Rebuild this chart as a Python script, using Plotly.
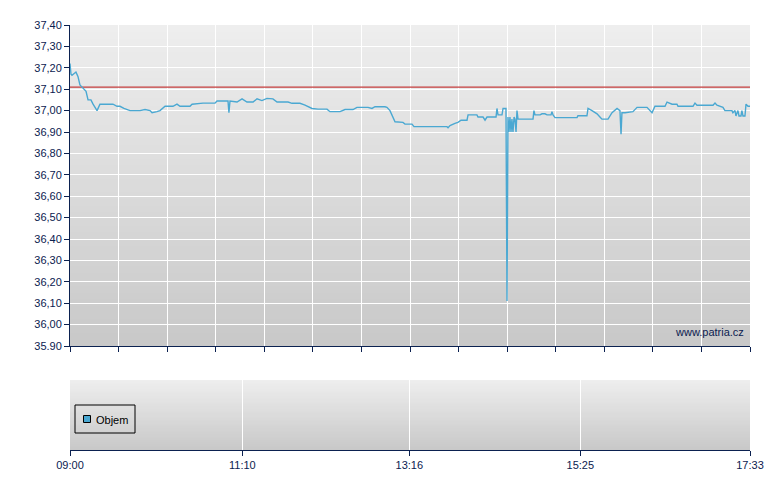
import plotly.graph_objects as go

# ---- data (minutes after 09:00 opening, price in CZK) ----
minutes = [0, 0.75, 1.5, 4.5, 6.0, 7.5, 9.8, 12.1, 13.6, 15.8, 17.4, 20.4, 22.6, 24.9, 32.4,
           35.5, 37.7, 40.7, 45.3, 52.8, 56.6, 60.4, 61.9, 65.6, 67.9, 71.7, 77.7, 80.7, 83.0,
           90.5, 92.1, 100.3, 109.4, 110.9, 119.2, 119.9, 120.7, 126.0, 129.8, 133.5, 138.1,
           141.1, 144.8, 148.6, 153.1, 156.2, 164.5, 167.5, 173.5, 177.3, 182.6, 187.1, 193.9,
           196.1, 203.7, 207.5, 213.5, 216.5, 224.8, 227.8, 230.1, 237.6, 239.1, 241.4, 243.7,
           245.2, 251.2, 252.7, 258.0, 259.5, 271.6, 284.4, 285.2, 286.7, 290.4, 292.7, 295.0,
           299.5, 300.3, 307.0, 307.8, 311.6, 313.1, 314.6, 321.4, 322.1, 322.9, 325.9, 326.7,
           328.9, 329.7, 330.4, 331.2, 331.9, 332.7, 333.4, 334.2, 335.0, 335.7, 336.5, 337.2,
           338.0, 339.5, 349.3, 350.0, 350.8, 354.6, 356.1, 358.3, 359.9, 362.9, 363.6, 364.4,
           365.9, 382.5, 383.2, 390.0, 390.8, 393.8, 397.6, 399.8, 401.3, 405.9, 408.9, 412.7,
           414.9, 415.7, 416.4, 418.7, 422.5, 424.7, 427.8, 435.3, 439.1, 441.3, 448.9, 450.4,
           454.2, 457.9, 458.7, 470.0, 471.5, 473.0, 485.1, 486.6, 488.1, 492.6, 494.1, 499.4,
           500.1, 501.7, 502.4, 503.2, 503.9, 504.7, 506.2, 506.9, 507.7, 509.2, 510.0, 511.5,
           513.0]
prices = [37.22, 37.17, 37.165, 37.18, 37.16, 37.12, 37.105, 37.09, 37.05, 37.05, 37.03, 37.00,
          37.03, 37.03, 37.03, 37.02, 37.02, 37.01, 37.00, 37.00, 37.005, 37.00, 36.99, 36.995,
          37.00, 37.02, 37.02, 37.03, 37.02, 37.02, 37.03, 37.035, 37.035, 37.045, 37.045,
          36.99, 37.045, 37.04, 37.055, 37.04, 37.04, 37.055, 37.047, 37.057, 37.055, 37.04,
          37.04, 37.034, 37.034, 37.026, 37.01, 37.007, 37.007, 36.995, 36.995, 37.005, 37.005,
          37.015, 37.015, 37.01, 37.018, 37.018, 37.015, 37.00, 36.963, 36.948, 36.945, 36.937,
          36.937, 36.925, 36.925, 36.925, 36.92, 36.93, 36.94, 36.945, 36.955, 36.955, 36.98,
          36.98, 36.97, 36.97, 36.955, 36.97, 36.97, 37.01, 36.98, 36.98, 37.01, 37.01, 36.11,
          36.97, 36.90, 36.97, 36.90, 36.96, 36.90, 36.97, 36.96, 36.90, 37.00, 36.96, 36.96,
          36.96, 37.00, 36.98, 36.98, 36.985, 36.985, 36.98, 36.98, 36.995, 36.98, 36.967,
          36.967, 36.976, 36.976, 37.01, 37.00, 36.985, 36.97, 36.96, 36.96, 36.99, 37.01,
          37.00, 36.89, 36.99, 36.99, 36.995, 36.995, 37.015, 37.015, 36.99, 37.02, 37.02,
          37.04, 37.03, 37.03, 37.02, 37.02, 37.035, 37.025, 37.025, 37.035, 37.025, 37.015,
          37.00, 37.00, 36.99, 37.00, 36.975, 36.99, 37.00, 36.975, 36.975, 37.00, 36.975,
          36.975, 37.03, 37.02, 37.02]
prev_close = 37.11
session_end = 513  # 17:33

y_ticks = [35.90, 36.00, 36.10, 36.20, 36.30, 36.40, 36.50, 36.60, 36.70, 36.80, 36.90,
           37.00, 37.10, 37.20, 37.30, 37.40]
y_labels = ["35.90", "36,00", "36,10", "36,20", "36,30", "36,40", "36,50", "36,60", "36,70",
            "36,80", "36,90", "37,00", "37,10", "37,20", "37,30", "37,40"]
time_ticks = [0, 130, 256, 385, 513]
time_labels = ["09:00", "11:10", "13:16", "15:25", "17:33"]
volume_times = [0]
volume_values = [0]
legend_label = "Objem"

NAVY = "#0b2150"
BLUE = "#4aa8d2"
FONT = "Liberation Sans, Arial, sans-serif"

fig = go.Figure()
fig.add_trace(go.Scatter(x=[0, session_end], y=[prev_close, prev_close], mode="lines",
                         line=dict(color="#c43c3c", width=1.3), showlegend=False,
                         hoverinfo="skip", xaxis="x", yaxis="y"))
fig.add_trace(go.Scatter(x=minutes, y=prices, mode="lines",
                         line=dict(color=BLUE, width=1.4), showlegend=False,
                         xaxis="x", yaxis="y"))
fig.add_trace(go.Bar(x=volume_times, y=volume_values, name=legend_label,
                     marker=dict(color=BLUE, line=dict(width=0)),
                     xaxis="x2", yaxis="y2", showlegend=False))

# gradient backgrounds (overlapping bands, lighter towards the top)
shapes = []
n = 48
for ax_x, ax_y in (("x", "y"), ("x2", "y2")):
    for i in range(n):
        t = i / n
        c = round(200 + (238 - 200) * (i + 0.5) / n)
        shapes.append(dict(type="rect", xref=f"{ax_x} domain", yref=f"{ax_y} domain",
                           x0=0, x1=1, y0=t, y1=1, layer="below",
                           line=dict(width=0), fillcolor=f"rgb({c},{c},{c})"))

# legend box for the volume panel
shapes.append(dict(type="rect", xref="x2 domain", yref="y2 domain",
                   xsizemode="pixel", ysizemode="pixel", xanchor=0, yanchor=0,
                   x0=5, x1=65, y0=17, y1=45, layer="above",
                   line=dict(color="#000000", width=1), fillcolor="rgba(0,0,0,0)"))
shapes.append(dict(type="rect", xref="x2 domain", yref="y2 domain",
                   xsizemode="pixel", ysizemode="pixel", xanchor=0, yanchor=0,
                   x0=13.5, x1=20.5, y0=27.5, y1=34.5, layer="above",
                   line=dict(color="#000000", width=1), fillcolor=BLUE))

main_grid = [session_end * i / 14 for i in range(15)]

fig.update_layout(
    width=772, height=482,
    margin=dict(l=62, r=30, t=17, b=40, autoexpand=False),
    paper_bgcolor="white", plot_bgcolor="rgba(0,0,0,0)",
    font=dict(family=FONT, size=11, color=NAVY),
    shapes=shapes,
    showlegend=False,
    xaxis=dict(domain=[0, 1], range=[0, session_end], tickvals=main_grid,
               ticktext=[""] * len(main_grid), ticks="outside", ticklen=5,
               tickcolor=NAVY, showline=True, linecolor=NAVY, linewidth=1,
               showgrid=True, gridcolor="white", gridwidth=1, zeroline=False,
               anchor="y", fixedrange=True),
    yaxis=dict(domain=[0.2447, 1], range=[35.90, 37.40], tickvals=y_ticks,
               ticktext=y_labels, ticks="outside", ticklen=5, tickcolor=NAVY,
               showline=True, linecolor=NAVY, linewidth=1, showgrid=True,
               gridcolor="white", gridwidth=1, zeroline=False, anchor="x"),
    xaxis2=dict(domain=[0, 1], range=[0, session_end], tickvals=time_ticks,
                ticktext=time_labels, ticks="outside", ticklen=5, tickcolor=NAVY,
                showline=True, linecolor=NAVY, linewidth=1, showgrid=True,
                gridcolor="white", gridwidth=1, zeroline=False, anchor="y2"),
    yaxis2=dict(domain=[0, 0.1647], range=[0, 1], showticklabels=False, ticks="",
                showgrid=False, zeroline=False, showline=False, anchor="x2"),
)

fig.add_annotation(x=0, y=0, xref="x2 domain", yref="y2 domain", xanchor="left",
                   yanchor="middle", xshift=24, yshift=30, text=legend_label,
                   showarrow=False, font=dict(family=FONT, size=11, color="#000000"))
fig.add_annotation(x=1, y=0.02, xref="x domain", yref="y domain", xanchor="right",
                   yanchor="bottom", text="www.patria.cz", showarrow=False,
                   xshift=-4, font=dict(family=FONT, size=11, color=NAVY))

fig.write_html("out.html")
